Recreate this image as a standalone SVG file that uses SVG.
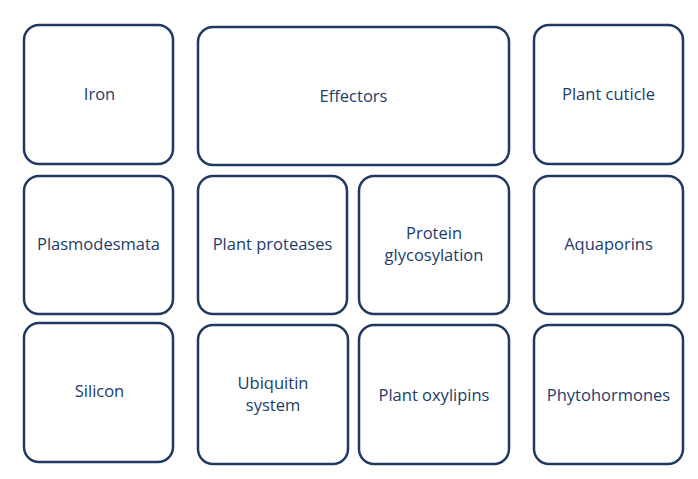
<svg xmlns="http://www.w3.org/2000/svg" width="698" height="479" viewBox="0 0 698 479">
<style>
.box{fill:#ffffff;stroke:#1f3864;stroke-width:2.5}
.lbl{font-family:"Open Sans","Liberation Sans",sans-serif;font-size:16.5px;fill:#203c6c;text-anchor:middle}
</style>
<rect width="698" height="479" fill="#ffffff"/>
<g id="connectors"></g>
<g id="iron"><rect class="box" x="24" y="25" width="149" height="139" rx="15"/><text class="lbl" x="99.5" y="100">Iron</text></g>
<g id="effectors"><rect class="box" x="198" y="27" width="311" height="138" rx="15"/><text class="lbl" x="353.5" y="102">Effectors</text></g>
<g id="plant-cuticle"><rect class="box" x="534" y="25" width="149" height="139" rx="15"/><text class="lbl" x="608.5" y="100">Plant cuticle</text></g>
<g id="plasmodesmata"><rect class="box" x="24" y="176" width="149" height="138" rx="15"/><text class="lbl" x="98.5" y="250">Plasmodesmata</text></g>
<g id="plant-proteases"><rect class="box" x="198" y="176" width="149" height="138" rx="15"/><text class="lbl" x="272.5" y="250">Plant proteases</text></g>
<g id="protein-glycosylation"><rect class="box" x="359" y="176" width="150" height="138" rx="15"/><text class="lbl" x="434" y="239">Protein</text><text class="lbl" x="434" y="261">glycosylation</text></g>
<g id="aquaporins"><rect class="box" x="534" y="176" width="149" height="138" rx="15"/><text class="lbl" x="608.5" y="250">Aquaporins</text></g>
<g id="silicon"><rect class="box" x="24" y="323" width="149" height="139" rx="15"/><text class="lbl" x="99.5" y="397">Silicon</text></g>
<g id="ubiquitin-system"><rect class="box" x="198" y="325" width="150" height="139" rx="15"/><text class="lbl" x="273" y="389">Ubiquitin</text><text class="lbl" x="273" y="411">system</text></g>
<g id="plant-oxylipins"><rect class="box" x="359" y="325" width="150" height="139" rx="15"/><text class="lbl" x="434" y="401">Plant oxylipins</text></g>
<g id="phytohormones"><rect class="box" x="534" y="325" width="149" height="139" rx="15"/><text class="lbl" x="608.5" y="401">Phytohormones</text></g>
</svg>
